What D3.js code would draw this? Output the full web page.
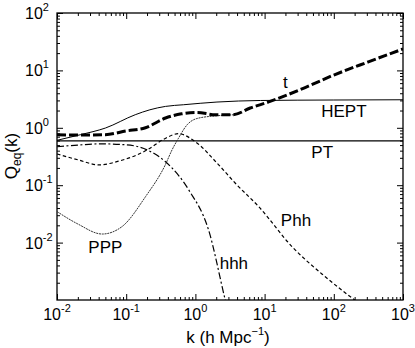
<!DOCTYPE html>
<html>
<head>
<meta charset="utf-8">
<script src="https://cdn.jsdelivr.net/npm/d3@7"></script>
<style>
body { margin: 0; background: #fff; }
text { font-family: "Liberation Sans", Arial, sans-serif; fill: #000; }
</style>
</head>
<body>
<script>
// curves (k in h/Mpc, Q_eq)
var kPT = [0.01, 1000];
var qPT = [0.59, 0.59];

var kHEPT = [0.01, 0.022, 0.05, 0.135, 0.22, 0.37, 0.67, 2.05, 8.7, 100, 1000];
var qHEPT = [0.605, 0.76, 0.99, 1.69, 2.06, 2.36, 2.52, 2.81, 2.99, 3.05, 3.08];

var kT = [0.01, 0.025, 0.05, 0.1, 0.19, 0.37, 0.63, 1.05, 1.95, 3.5, 6.2, 12, 32, 100, 316, 1000];
var qT = [0.755, 0.75, 0.76, 0.88, 1.0, 1.48, 1.75, 1.85, 1.69, 1.69, 2.21, 2.88, 4.57, 8.3, 14.1, 23.6];

var kPhh = [0.01, 0.02, 0.04, 0.08, 0.2, 0.355, 0.57, 1.0, 2.17, 3.78, 8.2, 24.9, 75.3, 200];
var qPhh = [0.35, 0.277, 0.226, 0.265, 0.41, 0.64, 0.79, 0.57, 0.226, 0.108, 0.0424, 0.0085, 0.00254, 0.001];

var khhh = [0.01, 0.02, 0.042, 0.1, 0.2, 0.367, 0.8, 1.55, 2.7, 3.0];
var qhhh = [0.468, 0.50, 0.525, 0.505, 0.413, 0.258, 0.083, 0.0166, 0.001, 0.0006];

var kPPP = [0.01, 0.02, 0.045, 0.087, 0.19, 0.367, 0.46, 0.57, 0.76, 1.05, 2.05, 3.8];
var qPPP = [0.0347, 0.0211, 0.0141, 0.019, 0.063, 0.226, 0.413, 0.66, 1.13, 1.45, 1.62, 1.69];

var xTicks = [1e-2, 1e-1, 1e0, 1e1, 1e2, 1e3];
var xExp = ["-2", "-1", "0", "1", "2", "3"];
var yTicks = [1e-2, 1e-1, 1e0, 1e1, 1e2];
var yExp = ["-2", "-1", "0", "1", "2"];

var labelText = ["PT", "HEPT", "t", "Phh", "hhh", "PPP"];

var w = 415, h = 348;
var pl = 57, pr = 403, pt = 13, pb = 300; // plot box

var x = d3.scaleLog().domain([1e-2, 1e3]).range([pl, pr]);
var y = d3.scaleLog().domain([1e-3, 1e2]).range([pb, pt]);

var svg = d3.select("body").append("svg")
  .attr("width", w)
  .attr("height", h);

svg.append("defs").append("clipPath").attr("id", "clip")
  .append("rect")
  .attr("x", pl).attr("y", pt)
  .attr("width", pr - pl).attr("height", pb - pt);

// minor ticks
var xMinor = [], yMinor = [];
for (var e = -2; e < 3; e++) {
  for (var m = 2; m < 10; m++) xMinor.push(m * Math.pow(10, e));
}
for (var e = -3; e < 2; e++) {
  for (var m = 2; m < 10; m++) yMinor.push(m * Math.pow(10, e));
}

function styleAxis(g) {
  g.select(".domain").remove();
  g.selectAll("line").attr("stroke", "#000").attr("stroke-width", 1);
}

svg.append("g").attr("transform", "translate(0," + pb + ")")
  .call(d3.axisBottom(x).tickValues(xTicks).tickSize(-6).tickFormat("")).call(styleAxis);
svg.append("g").attr("transform", "translate(0," + pb + ")")
  .call(d3.axisBottom(x).tickValues(xMinor).tickSize(-3).tickFormat("")).call(styleAxis);
svg.append("g").attr("transform", "translate(0," + pt + ")")
  .call(d3.axisTop(x).tickValues(xTicks).tickSize(-6).tickFormat("")).call(styleAxis);
svg.append("g").attr("transform", "translate(0," + pt + ")")
  .call(d3.axisTop(x).tickValues(xMinor).tickSize(-3).tickFormat("")).call(styleAxis);
svg.append("g").attr("transform", "translate(" + pl + ",0)")
  .call(d3.axisLeft(y).tickValues(yTicks).tickSize(-6).tickFormat("")).call(styleAxis);
svg.append("g").attr("transform", "translate(" + pl + ",0)")
  .call(d3.axisLeft(y).tickValues(yMinor).tickSize(-3).tickFormat("")).call(styleAxis);
svg.append("g").attr("transform", "translate(" + pr + ",0)")
  .call(d3.axisRight(y).tickValues(yTicks).tickSize(-6).tickFormat("")).call(styleAxis);
svg.append("g").attr("transform", "translate(" + pr + ",0)")
  .call(d3.axisRight(y).tickValues(yMinor).tickSize(-3).tickFormat("")).call(styleAxis);

// frame
svg.append("rect")
  .attr("x", pl).attr("y", pt)
  .attr("width", pr - pl).attr("height", pb - pt)
  .attr("fill", "none").attr("stroke", "#000").attr("stroke-width", 1.3);

// tick labels
var xl = svg.selectAll(".xl").data(xTicks).enter().append("text")
  .attr("class", "xl")
  .attr("x", function(d) { return x(d); })
  .attr("y", 320)
  .attr("text-anchor", "middle")
  .attr("font-size", "16px");
xl.append("tspan").text("10");
xl.append("tspan").attr("dy", -8).attr("font-size", "11px").text(function(d, i) { return xExp[i]; });

var yl = svg.selectAll(".yl").data(yTicks).enter().append("text")
  .attr("class", "yl")
  .attr("x", 25)
  .attr("y", function(d) { return y(d) + 6; })
  .attr("font-size", "16px");
yl.append("tspan").text("10");
yl.append("tspan").attr("dy", -8).attr("font-size", "11px").text(function(d, i) { return yExp[i]; });

// axis titles
var xt = svg.append("text")
  .attr("x", 228).attr("y", 343)
  .attr("text-anchor", "middle")
  .attr("font-size", "17px");
xt.append("tspan").text("k (h Mpc");
xt.append("tspan").attr("dy", -8).attr("font-size", "11px").text("\u22121");
xt.append("tspan").attr("dy", 8).text(")");

var yt = svg.append("text")
  .attr("transform", "translate(17,156) rotate(-90)")
  .attr("text-anchor", "middle")
  .attr("font-size", "17px");
yt.append("tspan").text("Q");
yt.append("tspan").attr("dy", 4).attr("font-size", "12px").text("eq");
yt.append("tspan").attr("dy", -4).text("(k)");

// curves
var series = [
  {k: kPT, q: qPT, width: 1.3, dash: null, color: "#000"},
  {k: kHEPT, q: qHEPT, width: 1, dash: null, color: "#000"},
  {k: kPhh, q: qPhh, width: 1.2, dash: "3.5,2.5", color: "#000"},
  {k: khhh, q: qhhh, width: 1.2, dash: "7,2.5,2,2.5", color: "#000"},
  {k: kPPP, q: qPPP, width: 1, dash: "2,0.8", color: "#333"},
  {k: kT, q: qT, width: 3, dash: "9,3", color: "#000"}
];

var line = d3.line()
  .x(function(d) { return x(d[0]); })
  .y(function(d) { return y(d[1]); })
  .curve(d3.curveMonotoneX);

svg.append("g").attr("clip-path", "url(#clip)")
  .selectAll("path")
  .data(series)
  .enter()
  .append("path")
  .attr("d", function(s) { return line(d3.zip(s.k, s.q)); })
  .attr("fill", "none")
  .attr("stroke", function(s) { return s.color; })
  .attr("stroke-width", function(s) { return s.width; })
  .attr("stroke-dasharray", function(s) { return s.dash; });

// curve labels
var labelK = [68, 140, 20, 28.4, 3.6, 0.05];
var labelQ = [0.298, 1.54, 4.9, 0.0195, 0.0035, 0.0066];
svg.selectAll(".cl").data(labelText).enter().append("text")
  .attr("class", "cl")
  .attr("x", function(d, i) { return x(labelK[i]); })
  .attr("y", function(d, i) { return y(labelQ[i]); })
  .attr("text-anchor", "middle")
  .attr("font-size", "17px")
  .text(function(d) { return d; });
</script>
</body>
</html>
